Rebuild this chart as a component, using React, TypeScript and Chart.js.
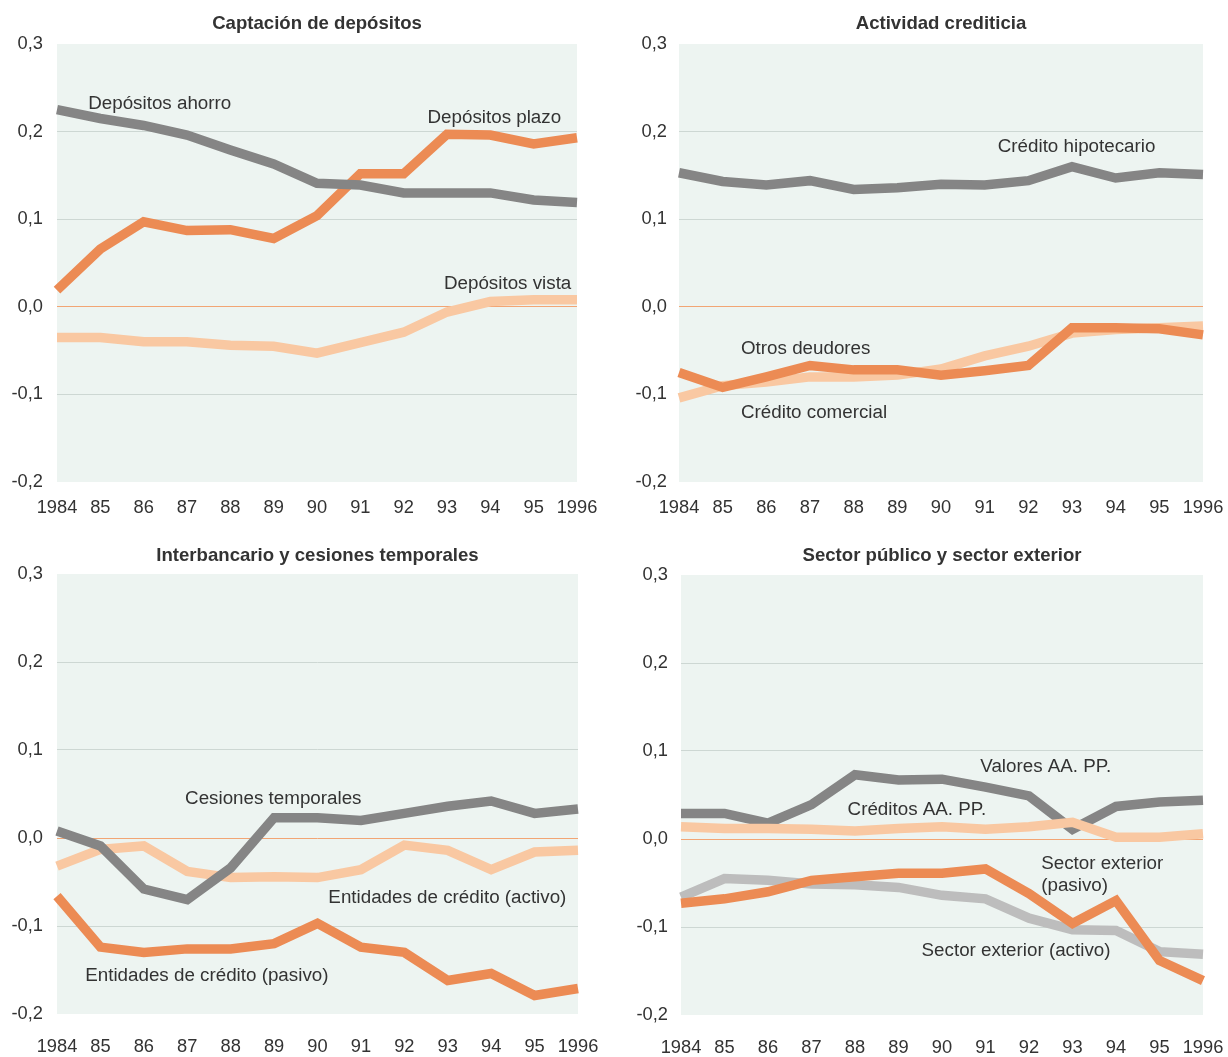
import React, { useEffect, useRef } from "react";
import { Chart, registerables } from "chart.js";

Chart.register(...registerables);

// ---------- data ----------
const years = ["1984", "85", "86", "87", "88", "89", "90", "91", "92", "93", "94", "95", "1996"];
const yTicks = [-0.2, -0.1, 0.0, 0.1, 0.2, 0.3];

const depositosAhorro = [0.225, 0.215, 0.207, 0.196, 0.179, 0.163, 0.141, 0.139, 0.130, 0.130, 0.130, 0.122, 0.119];
const depositosPlazo = [0.019, 0.066, 0.097, 0.087, 0.088, 0.078, 0.104, 0.152, 0.152, 0.197, 0.196, 0.186, 0.193];
const depositosVista = [-0.035, -0.035, -0.040, -0.040, -0.044, -0.045, -0.053, -0.041, -0.029, -0.006, 0.006, 0.008, 0.008];

const creditoHipotecario = [0.153, 0.143, 0.139, 0.144, 0.134, 0.136, 0.140, 0.139, 0.144, 0.160, 0.147, 0.153, 0.151];
const otrosDeudores = [-0.075, -0.092, -0.080, -0.067, -0.072, -0.072, -0.078, -0.073, -0.067, -0.024, -0.024, -0.025, -0.032];
const creditoComercial = [-0.104, -0.090, -0.086, -0.080, -0.080, -0.078, -0.071, -0.056, -0.045, -0.030, -0.026, -0.024, -0.022];

const cesionesTemporales = [0.008, -0.009, -0.058, -0.070, -0.034, 0.023, 0.023, 0.020, 0.028, 0.036, 0.042, 0.028, 0.033];
const entidadesActivo = [-0.032, -0.013, -0.009, -0.038, -0.045, -0.044, -0.045, -0.036, -0.008, -0.014, -0.036, -0.016, -0.014];
const entidadesPasivo = [-0.066, -0.124, -0.130, -0.126, -0.126, -0.120, -0.097, -0.124, -0.130, -0.162, -0.154, -0.179, -0.171];

const valoresAAPP = [0.029, 0.029, 0.018, 0.039, 0.073, 0.067, 0.068, 0.059, 0.049, 0.011, 0.037, 0.042, 0.044];
const creditosAAPP = [0.014, 0.012, 0.012, 0.011, 0.009, 0.012, 0.014, 0.011, 0.014, 0.019, 0.002, 0.002, 0.006];
const sectorExteriorPasivo = [-0.073, -0.068, -0.060, -0.047, -0.043, -0.039, -0.039, -0.034, -0.062, -0.096, -0.070, -0.138, -0.161];
const sectorExteriorActivo = [-0.066, -0.045, -0.047, -0.051, -0.052, -0.055, -0.064, -0.068, -0.090, -0.103, -0.104, -0.128, -0.131];

// ---------- styles ----------
const GRAY = "#858585";
const ORANGE = "#ec8b54";
const PEACH = "#f9c8a2";
const LIGHTGRAY = "#bdbdbd";
const TEXT = "#333333";
const FONT = "'Liberation Sans', Arial, sans-serif";

type Label = { text: string[]; x: number; y: number };
type Series = { data: number[]; color: string };
type Panel = {
  title: string;
  series: Series[];
  labels: Label[];
  left: number; top: number; w: number; h: number;
  plotLeft: number; plotRight: number; plotTop: number; plotBottom: number;
  yPad: number; xPad: number; titleY: number;
};

const panels: Panel[] = [
  {
    title: "Captación de depósitos",
    series: [
      { data: depositosAhorro, color: GRAY },
      { data: depositosPlazo, color: ORANGE },
      { data: depositosVista, color: PEACH },
    ],
    labels: [
      { text: ["Depósitos ahorro"], x: 0.72, y: 0.232 },
      { text: ["Depósitos plazo"], x: 8.55, y: 0.216 },
      { text: ["Depósitos vista"], x: 8.93, y: 0.026 },
    ],
    left: 0, top: 0, w: 614, h: 530,
    plotLeft: 57, plotRight: 577, plotTop: 44, plotBottom: 482, yPad: 14, xPad: 15, titleY: 24,
  },
  {
    title: "Actividad crediticia",
    series: [
      { data: creditoHipotecario, color: GRAY },
      { data: otrosDeudores, color: ORANGE },
      { data: creditoComercial, color: PEACH },
    ],
    labels: [
      { text: ["Crédito hipotecario"], x: 7.3, y: 0.183 },
      { text: ["Otros deudores"], x: 1.42, y: -0.048 },
      { text: ["Crédito comercial"], x: 1.42, y: -0.121 },
    ],
    left: 614, top: 0, w: 614, h: 530,
    plotLeft: 65, plotRight: 589, plotTop: 44, plotBottom: 482, yPad: 12, xPad: 15, titleY: 24,
  },
  {
    title: "Interbancario y cesiones temporales",
    series: [
      { data: cesionesTemporales, color: GRAY },
      { data: entidadesActivo, color: PEACH },
      { data: entidadesPasivo, color: ORANGE },
    ],
    labels: [
      { text: ["Cesiones temporales"], x: 2.95, y: 0.044 },
      { text: ["Entidades de crédito (activo)"], x: 6.25, y: -0.068 },
      { text: ["Entidades de crédito (pasivo)"], x: 0.65, y: -0.157 },
    ],
    left: 0, top: 530, w: 614, h: 527,
    plotLeft: 57, plotRight: 578, plotTop: 44, plotBottom: 484, yPad: 14, xPad: 22, titleY: 26,
  },
  {
    title: "Sector público y sector exterior",
    series: [
      { data: creditosAAPP, color: PEACH },
      { data: valoresAAPP, color: GRAY },
      { data: sectorExteriorPasivo, color: ORANGE },
      { data: sectorExteriorActivo, color: LIGHTGRAY },
    ],
    labels: [
      { text: ["Valores AA. PP."], x: 6.88, y: 0.082 },
      { text: ["Créditos AA. PP."], x: 3.83, y: 0.033 },
      { text: ["Sector exterior", "(pasivo)"], x: 8.28, y: -0.028 },
      { text: ["Sector exterior (activo)"], x: 5.53, y: -0.127 },
    ],
    left: 614, top: 530, w: 614, h: 527,
    plotLeft: 67, plotRight: 589, plotTop: 45, plotBottom: 485, yPad: 13, xPad: 22, titleY: 26,
  },
];

const fmt = (v: number) => v.toFixed(1).replace(".", ",");

function PanelChart({ p }: { p: Panel }) {
  const ref = useRef<HTMLCanvasElement | null>(null);
  useEffect(() => {
    if (!ref.current) return;
    const X_AXIS_H = 44;
    const decor = {
      id: "decor",
      beforeDraw(chart: any) {
        const { ctx, chartArea: a } = chart;
        ctx.save();
        ctx.fillStyle = "#ffffff";
        ctx.fillRect(0, 0, chart.width, chart.height);
        ctx.fillStyle = "#edf4f1";
        ctx.fillRect(a.left, a.top, a.right - a.left, a.bottom - a.top);
        ctx.restore();
      },
      afterDatasetsDraw(chart: any) {
        const { ctx, chartArea: a } = chart;
        const xs = chart.scales.x;
        const ys = chart.scales.y;
        ctx.save();
        ctx.fillStyle = TEXT;
        ctx.font = `bold 18.6px ${FONT}`;
        ctx.textAlign = "center";
        ctx.textBaseline = "middle";
        ctx.fillText(p.title, (a.left + a.right) / 2, p.titleY);
        ctx.font = `18.8px ${FONT}`;
        ctx.textAlign = "left";
        for (const l of p.labels) {
          const px = xs.getPixelForValue(l.x);
          const py = ys.getPixelForValue(l.y);
          l.text.forEach((t, i) => ctx.fillText(t, px, py + i * 22));
        }
        ctx.restore();
      },
    };
    const chart = new Chart(ref.current, {
      type: "line",
      data: {
        labels: years,
        datasets: p.series.map((s) => ({
          data: s.data,
          borderColor: s.color,
          backgroundColor: s.color,
          borderWidth: 9.5,
          pointRadius: 0,
          pointHoverRadius: 0,
          tension: 0,
          fill: false,
          borderJoinStyle: "miter" as const,
          borderCapStyle: "butt" as const,
        })),
      },
      options: {
        animation: false,
        responsive: false,
        maintainAspectRatio: false,
        events: [],
        layout: {
          padding: {
            left: 0,
            top: p.plotTop,
            right: p.w - p.plotRight,
            bottom: p.h - p.plotBottom - X_AXIS_H,
          },
        },
        plugins: { legend: { display: false }, title: { display: false }, tooltip: { enabled: false } },
        scales: {
          x: {
            type: "category",
            offset: false,
            grid: { display: false, drawTicks: false },
            border: { display: false },
            ticks: {
              color: TEXT,
              font: { family: FONT, size: 18.3 },
              padding: p.xPad,
              maxRotation: 0,
              autoSkip: false,
            },
            afterFit: (s: any) => {
              s.height = X_AXIS_H;
              s.paddingLeft = 0;
              s.paddingRight = 0;
            },
          },
          y: {
            min: -0.2,
            max: 0.3,
            afterBuildTicks: (s: any) => { s.ticks = yTicks.map((v) => ({ value: v })); },
            grid: {
              drawTicks: false,
              lineWidth: 1,
              color: (c: any) => {
                const v = c.tick ? c.tick.value : 1;
                if (Math.abs(v) < 1e-9) return "#f2a574";
                if (Math.abs(v - 0.3) < 1e-9 || Math.abs(v + 0.2) < 1e-9) return "rgba(0,0,0,0)";
                return "#cdd7d3";
              },
            },
            border: { display: false },
            ticks: {
              color: TEXT,
              font: { family: FONT, size: 18.3 },
              padding: p.yPad,
              callback: (v: any) => fmt(Number(v)),
            },
            afterFit: (s: any) => {
              s.width = p.plotLeft;
              s.paddingTop = 0;
              s.paddingBottom = 0;
            },
          },
        },
      },
      plugins: [decor],
    } as any);
    return () => chart.destroy();
  }, [p]);
  return (
    <canvas
      ref={ref}
      width={p.w}
      height={p.h}
      style={{ position: "absolute", left: p.left, top: p.top, width: p.w, height: p.h }}
    />
  );
}

export default function App() {
  return (
    <div style={{ position: "fixed", left: 0, top: 0, width: 1228, height: 1057, background: "#ffffff" }}>
      {panels.map((p, i) => (
        <PanelChart key={i} p={p} />
      ))}
    </div>
  );
}
